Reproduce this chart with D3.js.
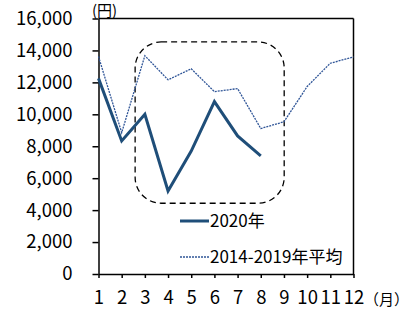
<!DOCTYPE html>
<html lang="ja">
<head>
	<meta charset="UTF-8">
	<title>月別グラフ</title>
	<script src="https://cdn.jsdelivr.net/npm/d3@7"></script>
	<style>
		body { margin: 0; background: #fff; }
		text { font-family: "Noto Sans CJK JP", sans-serif; fill: #000; }
	</style>
</head>
<body>
	<div id="chart"></div>
</body>
<script>
var months = [1, 2, 3, 4, 5, 6, 7, 8, 9, 10, 11, 12];
var yTicks = [0, 2000, 4000, 6000, 8000, 10000, 12000, 14000, 16000];
var data2020 = [12250, 8330, 10000, 5200, 7700, 10800, 8650, 7400]; // 2020年
var dataAvg = [13620, 8850, 13670, 12160, 12850, 11420, 11610, 9110, 9530, 11740, 13200, 13590]; // 2014-2019年平均
var seriesNames = ["2020年", "2014-2019年平均"];
var highlight = { from: 2.58, to: 9.01, top: 14530, bottom: 4430 }; // 点線の枠 (データ座標)

var svg = d3.select("#chart").append("svg")
	.attr("width", 411)
	.attr("height", 314);

var xScale = d3.scaleLinear()
	.domain([1, 12])
	.range([98.5, 353.5]);

var yScale = d3.scaleLinear()
	.domain([0, 16000])
	.range([274, 18.5]);

// 枠線(上と右)
svg.append("line")
	.attr("x1", xScale(1)).attr("x2", xScale(12))
	.attr("y1", yScale(16000)).attr("y2", yScale(16000))
	.attr("stroke", "#000").attr("stroke-width", 1.5);
svg.append("line")
	.attr("x1", xScale(12)).attr("x2", xScale(12))
	.attr("y1", yScale(16000)).attr("y2", yScale(0))
	.attr("stroke", "#000").attr("stroke-width", 1.5);

var yAxis = d3.axisLeft(yScale)
	.tickValues(yTicks)
	.tickFormat(d3.format(","))
	.tickSize(6)
	.tickSizeOuter(0)
	.tickPadding(20);
var gy = svg.append("g").attr("transform", "translate(" + xScale(1) + ",0)").call(yAxis);
gy.selectAll("text").style("font-size", "18.5px");

var xAxis = d3.axisBottom(xScale)
	.tickValues(months)
	.tickFormat(d3.format("d"))
	.tickSize(4)
	.tickSizeOuter(0)
	.tickPadding(13);
var gx = svg.append("g").attr("transform", "translate(0," + yScale(0) + ")").call(xAxis);
gx.selectAll("text").style("font-size", "18.5px");

svg.selectAll(".domain, .tick line").attr("stroke", "#000").attr("stroke-width", 1.5);

// 単位
svg.append("text").attr("x", 92).attr("y", 16).style("font-size", "15px").text("(円)");
svg.append("text").attr("x", 364).attr("y", 305).style("font-size", "15px").text("（月）");

// 点線の枠
svg.append("rect")
	.attr("x", xScale(highlight.from))
	.attr("y", yScale(highlight.top))
	.attr("width", xScale(highlight.to) - xScale(highlight.from))
	.attr("height", yScale(highlight.bottom) - yScale(highlight.top))
	.attr("rx", 26).attr("ry", 26)
	.attr("fill", "none")
	.attr("stroke", "#000")
	.attr("stroke-width", 1.3)
	.attr("stroke-dasharray", "6,4");

var line = d3.line()
	.x(function(d, i) { return xScale(months[i]); })
	.y(function(d) { return yScale(d); });

svg.append("path")
	.datum(dataAvg)
	.attr("d", line)
	.attr("fill", "none")
	.attr("stroke", "#2F5597")
	.attr("stroke-width", 1.3)
	.attr("stroke-dasharray", "2,1");

svg.append("path")
	.datum(data2020)
	.attr("d", line)
	.attr("fill", "none")
	.attr("stroke", "#1F4E79")
	.attr("stroke-width", 3)
	.attr("stroke-linejoin", "miter");

// 凡例
var legend = svg.append("g");
var legendY = [221, 257];
legend.append("line")
	.attr("x1", 180).attr("x2", 209)
	.attr("y1", legendY[0]).attr("y2", legendY[0])
	.attr("stroke", "#1F4E79").attr("stroke-width", 3);
legend.append("line")
	.attr("x1", 180).attr("x2", 209)
	.attr("y1", legendY[1]).attr("y2", legendY[1])
	.attr("stroke", "#2F5597").attr("stroke-width", 1.3)
	.attr("stroke-dasharray", "2,1");
legend.selectAll("text")
	.data(seriesNames)
	.enter().append("text")
	.attr("x", 210)
	.attr("y", function(d, i) { return legendY[i]; })
	.attr("dy", "0.35em")
	.style("font-size", "17px")
	.text(function(d) { return d; });
</script>
</html>
